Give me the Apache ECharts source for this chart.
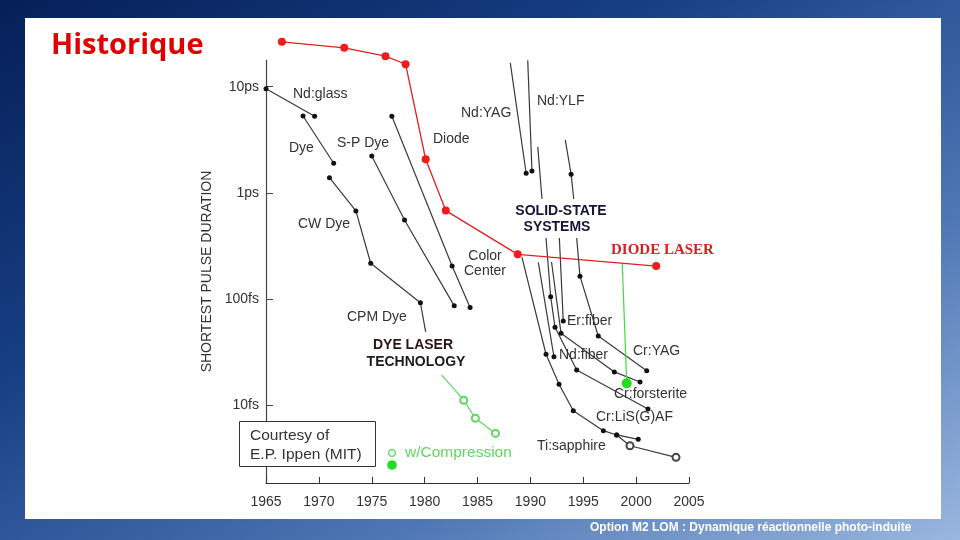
<!DOCTYPE html>
<html>
<head>
<meta charset="utf-8">
<script src="https://cdn.jsdelivr.net/npm/echarts@6/dist/echarts.min.js"></script>
<style>
  html, body { margin:0; padding:0; width:960px; height:540px; overflow:hidden;
    background: linear-gradient(150deg, #061f58 0%, #173f84 35%, #4f77b5 70%, #9ab7df 100%); }
  #chart { width:960px; height:540px; }
</style>
</head>
<body>
<div id="chart"></div>
<script>
// ---- Data: [year, shortest pulse duration in fs] ----
const diodeLaser   = [[1966.5, 26500], [1972.4, 23300], [1976.3, 19400], [1978.2, 16300], [1980.1, 2070], [1982.0, 680], [1988.8, 263], [2001.9, 204]];
const ndGlass      = [[1965.0, 9570], [1969.6, 5260]];
const dye          = [[1968.5, 5300], [1971.4, 1900]];
const cwCpmDye     = [[1971.0, 1390], [1973.5, 675], [1974.9, 217], [1979.6, 92], [1980.1, 49]];
const spDye        = [[1975.0, 2220], [1978.1, 554], [1982.8, 86]];
const colorCenter  = [[1976.9, 5260], [1982.6, 204], [1984.3, 83]];
const compression  = [[1981.6, 19.2], [1983.7, 11.1], [1984.8, 7.5], [1986.7, 5.4]];
const ndYag        = [[1988.1, 16800], [1989.6, 1530]];
const ndYlf        = [[1989.75, 17800], [1990.15, 1610]];
const ssLineA      = [[1990.7, 2720], [1991.1, 875]];
const ssLineB      = [[1993.3, 3150], [1993.85, 1500], [1994.1, 875]];
const tiSapphire   = [[1989.2, 248], [1991.48, 30.1], [1992.71, 15.7], [1994.06, 8.84], [1996.9, 5.73], [1998.16, 5.22], [2000.2, 4.75]];
const tiSapphComp  = [[1998.16, 5.22], [1999.42, 4.13], [2003.77, 3.21]];
const ssLineC      = [[1990.75, 221], [1992.23, 28.5]];
const crForsterite = [[1991.48, 375], [1991.92, 105], [1992.33, 54], [1994.38, 21.4], [2001.12, 9.17]];
const ndFiber      = [[1992.0, 223], [1992.9, 47.4], [1997.94, 20.5], [2000.37, 16.5]];
const erFiber      = [[1992.74, 375], [1993.11, 61.9]];
const crYag        = [[1994.38, 375], [1994.69, 164], [1996.42, 44.7], [2001.0, 21.0]];
const diodeComp    = [[1998.69, 213], [1999.11, 16.0]];

const xTicks = [1965, 1970, 1975, 1980, 1985, 1990, 1995, 2000, 2005];
const yTickValues = [10, 100, 1000, 10000];
const yTickLabels = ['10fs', '100fs', '1ps', '10ps'];

// ---- Rendering ----
const chart = echarts.init(document.getElementById('chart'), null, { renderer: 'canvas' });
const F = '"Liberation Sans", Arial, sans-serif';

function lineSeries(data, opts) {
  const bare = opts.bare || [];
  const open = opts.open || [];
  return {
    type: 'line',
    data: data.map((d, i) => {
      if (bare.includes(i)) return { value: d, symbol: 'none' };
      if (open.includes(i)) return { value: d, symbol: 'emptyCircle', symbolSize: opts.openSize || 7,
        itemStyle: { color: opts.openColor || opts.color, borderColor: opts.openColor || opts.color, borderWidth: 1.3 } };
      return d;
    }),
    symbol: 'circle',
    symbolSize: opts.size || 5,
    showAllSymbol: true,
    clip: false,
    silent: true,
    animation: false,
    lineStyle: { color: opts.color, width: opts.width || 1.2 },
    itemStyle: { color: opts.mark || opts.color },
    z: opts.z || 2
  };
}

const BL = { color: '#3a3a3a', mark: '#111', size: 5 };
const series = [
  lineSeries(ndGlass, BL),
  lineSeries(dye, BL),
  lineSeries(cwCpmDye, Object.assign({ bare: [4] }, BL)),
  lineSeries(spDye, BL),
  lineSeries(colorCenter, BL),
  lineSeries(ndYag, Object.assign({ bare: [0] }, BL)),
  lineSeries(ndYlf, Object.assign({ bare: [0] }, BL)),
  lineSeries(ssLineA, Object.assign({ bare: [0, 1] }, BL)),
  lineSeries(ssLineB, Object.assign({ bare: [0, 2] }, BL)),
  lineSeries(tiSapphire, Object.assign({ bare: [0] }, BL)),
  lineSeries(tiSapphComp, { color: '#3a3a3a', mark: '#111', openColor: '#444', size: 5, open: [1, 2], openSize: 7 }),
  lineSeries(ssLineC, Object.assign({ bare: [0] }, BL)),
  lineSeries(crForsterite, Object.assign({ bare: [0] }, BL)),
  lineSeries(ndFiber, Object.assign({ bare: [0] }, BL)),
  lineSeries(erFiber, Object.assign({ bare: [0] }, BL)),
  lineSeries(crYag, Object.assign({ bare: [0] }, BL)),
  lineSeries(compression, { color: '#5cd85c', bare: [0], open: [1, 2, 3], openSize: 7 }),
  lineSeries(diodeComp, { color: '#3fdc3f', mark: '#22dd22', bare: [0], size: 10, z: 4 }),
  lineSeries(diodeLaser, { color: '#e02020', mark: '#ee1c1c', size: 8, width: 1.3, z: 3 })
];

function txt(text, x, y, o) {
  o = o || {};
  return {
    type: 'text', x: x, y: y, silent: true, z: 10,
    style: {
      text: text,
      font: (o.weight || 'normal') + ' ' + (o.size || 14) + 'px ' + (o.family || F),
      fill: o.color || '#333',
      align: o.align || 'left', textAlign: o.align || 'left',
      verticalAlign: 'middle', textVerticalAlign: 'middle'
    }
  };
}

const graphics = [
  { type: 'rect', shape: { x: 25, y: 18, width: 916, height: 501 }, style: { fill: '#ffffff' }, z: -10, silent: true },
  txt('Historique', 51, 46, { size: 29, weight: 'bold', color: '#e00000', family: '"Open Sans", sans-serif' }),
  txt('Option M2 LOM : Dynamique réactionnelle photo-induite', 590, 528, { size: 12, weight: 'bold', color: '#ffffff', family: '"Liberation Sans Narrow", "Liberation Sans", sans-serif' }),
  txt('Nd:glass', 293, 94),
  txt('Dye', 289, 148),
  txt('S-P Dye', 337, 143),
  txt('Diode', 433, 139),
  txt('Nd:YAG', 461, 113),
  txt('Nd:YLF', 537, 101),
  txt('SOLID-STATE', 561, 211, { align: 'center', weight: 'bold', color: '#15153a' }),
  txt('SYSTEMS', 557, 227, { align: 'center', weight: 'bold', color: '#15153a' }),
  txt('DIODE LASER', 611, 250, { weight: 'bold', size: 15, color: '#d42020', family: '"Liberation Serif", "Times New Roman", serif' }),
  txt('Color', 485, 256, { align: 'center' }),
  txt('Center', 485, 271, { align: 'center' }),
  txt('CW Dye', 298, 224),
  txt('CPM Dye', 347, 317),
  txt('DYE LASER', 413, 345, { align: 'center', weight: 'bold', color: '#2a1616' }),
  txt('TECHNOLOGY', 416, 362, { align: 'center', weight: 'bold', color: '#1e1a1e' }),
  txt('Er:fiber', 567, 321),
  txt('Cr:YAG', 633, 351),
  txt('Nd:fiber', 559, 355),
  txt('Cr:forsterite', 614, 394),
  txt('Cr:LiS(G)AF', 596, 417),
  txt('Ti:sapphire', 537, 446),
  { type: 'rect', shape: { x: 239.5, y: 421.5, width: 136, height: 45 }, style: { fill: '#fff', stroke: '#333', lineWidth: 1 }, z: 9, silent: true },
  txt('Courtesy of', 250, 436, { size: 15.5 }),
  txt('E.P. Ippen (MIT)', 250, 455, { size: 15.5 }),
  { type: 'circle', shape: { cx: 392, cy: 453, r: 3.3 }, style: { fill: '#fff', stroke: '#5cd85c', lineWidth: 1.3 }, z: 10, silent: true },
  { type: 'circle', shape: { cx: 392, cy: 465, r: 4.8 }, style: { fill: '#22dd22' }, z: 10, silent: true },
  txt('w/Compression', 405, 453, { size: 15.5, color: '#5cd85c' })
];

chart.setOption({
  backgroundColor: 'transparent',
  animation: false,
  grid: { left: 266, right: 271, top: 60, bottom: 57, containLabel: false, outerBoundsMode: 'none' },
  xAxis: {
    type: 'value', min: xTicks[0], max: xTicks[xTicks.length - 1], interval: 5,
    axisLine: { lineStyle: { color: '#333', width: 1.2 } },
    axisTick: { inside: true, length: 6, lineStyle: { color: '#333' } },
    axisLabel: { margin: 12, fontFamily: F, fontSize: 14, color: '#333', formatter: v => String(v) },
    splitLine: { show: false }
  },
  yAxis: {
    type: 'log', logBase: 10, min: 1.84, max: 17870,
    name: 'SHORTEST PULSE DURATION', nameLocation: 'middle', nameRotate: 90, nameGap: 52,
    nameTextStyle: { fontFamily: F, fontSize: 14, color: '#333' },
    axisLine: { lineStyle: { color: '#444', width: 1.2 } },
    axisTick: { inside: true, length: 7, lineStyle: { color: '#444' }, customValues: yTickValues },
    axisLabel: {
      margin: 7, fontFamily: F, fontSize: 14, color: '#333',
      customValues: yTickValues,
      formatter: v => { const i = yTickValues.findIndex(t => Math.abs(t - v) / t < 1e-6); return i >= 0 ? yTickLabels[i] : ''; }
    },
    splitLine: { show: false }, minorTick: { show: false }
  },
  graphic: graphics,
  series: series
});
</script>
</body>
</html>
